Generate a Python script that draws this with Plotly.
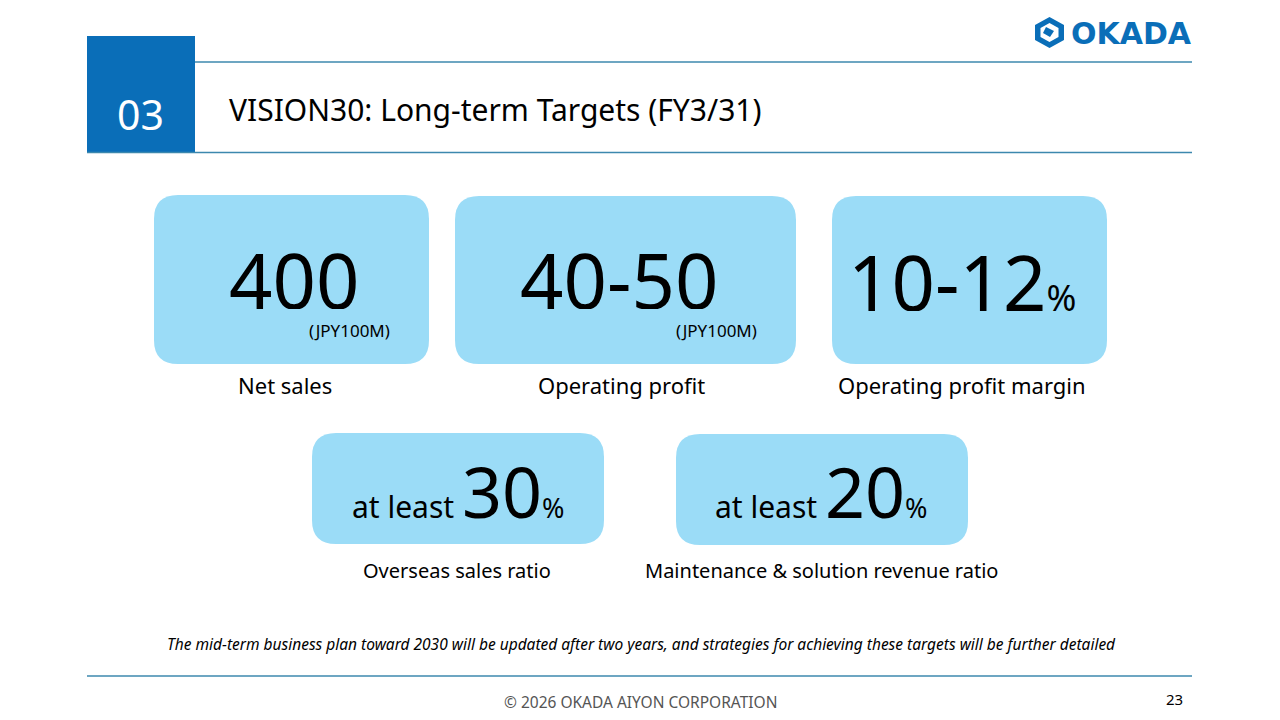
import plotly.graph_objects as go

# ---- data ----
section_no = "03"
title = "VISION30: Long-term Targets (FY3/31)"
values = ["400", "40-50", "10-12", "30", "20"]
prefixes = ["", "", "", "at least ", "at least "]
units = ["(JPY100M)", "(JPY100M)", "%", "%", "%"]
labels = ["Net sales", "Operating profit", "Operating profit margin",
          "Overseas sales ratio", "Maintenance & solution revenue ratio"]
footnote = ("The mid-term business plan toward 2030 will be updated after two years, "
            "and strategies for achieving these targets will be further detailed")
copyright_txt = "© 2026 OKADA AIYON CORPORATION"
page_no = "23"
brand = "OKADA"

# ---- layout / style ----
FONT = "Noto Sans"
BLUE = "#0A6EB8"
LINE = "#3C88AE"
CARD = "#9BDCF7"
boxes = [(154, 429, 195, 364), (455, 796, 196, 364), (832, 1107, 196, 364),
         (312, 604, 433, 544), (676, 968, 434, 545)]
value_x = [294, 619, 962, 458, 821]
label_x = [285, 621, 962, 457, 821]
label_size = [22, 22, 22, 20, 20]

def rrect(x0, x1, y0, y1, r):
    return (f"M{x0+r},{y0} L{x1-r},{y0} Q{x1},{y0} {x1},{y0+r} L{x1},{y1-r} "
            f"Q{x1},{y1} {x1-r},{y1} L{x0+r},{y1} Q{x0},{y1} {x0},{y1-r} "
            f"L{x0},{y0+r} Q{x0},{y0} {x0+r},{y0} Z")

fig = go.Figure()
fig.add_trace(go.Scatter(x=[0, 1280], y=[0, 720], mode="markers",
                         marker=dict(opacity=0), hoverinfo="skip", showlegend=False))

shapes = []
ann = []

# header
shapes.append(dict(type="rect", x0=87, x1=195, y0=36, y1=153, fillcolor=BLUE, line_width=0, layer="below"))
shapes.append(dict(type="line", x0=195, x1=1192, y0=62, y1=62, line=dict(color=LINE, width=1.5)))
shapes.append(dict(type="line", x0=87, x1=1192, y0=152.5, y1=152.5, line=dict(color=LINE, width=1.5)))
shapes.append(dict(type="line", x0=87, x1=1192, y0=676, y1=676, line=dict(color=LINE, width=1.5)))
ann.append(dict(x=140, y=114, text=section_no, font=dict(family=FONT, size=41, color="white")))
ann.append(dict(x=227, y=109, text=title, xanchor="left", font=dict(family=FONT, size=30, color="black")))

# logo
hexpath = "M1049.5,17 L1064,25 L1064,40 L1049.5,48 L1035,40 L1035,25 Z"
shapes.append(dict(type="path", path=hexpath, fillcolor=BLUE, line_width=0))
inner = "M1049.5,23 L1058.5,28 L1058.5,37 L1049.5,42 L1040.5,37 L1040.5,28 Z"
shapes.append(dict(type="path", path=inner, fillcolor="white", line_width=0))
shapes.append(dict(type="path", path="M1046,27 L1054,31 L1050,37 L1043,33 Z", fillcolor=BLUE, line_width=0))
ann.append(dict(x=1069, y=33, text=f"<b>{brand}</b>", xanchor="left",
                font=dict(family="DejaVu Sans", size=30, color=BLUE)))

# cards
for i, (x0, x1, y0, y1) in enumerate(boxes):
    shapes.append(dict(type="path", path=rrect(x0, x1, y0, y1, 24), fillcolor=CARD, line_width=0, layer="below"))
    cx = value_x[i]
    if i < 2:
        ann.append(dict(x=cx, y=279, text=values[i], height=60, valign="middle",
                        font=dict(family=FONT, size=76, color="black")))
        ann.append(dict(x=x1 - 37, y=330, text=units[i], xanchor="right",
                        font=dict(family=FONT, size=17, color="black")))
    elif i == 2:
        ann.append(dict(x=cx, y=281, height=60, valign="middle",
                        text=f"{values[i]}<span style='font-size:36px'>{units[i]}</span>",
                        font=dict(family=FONT, size=76, color="black")))
    else:
        ann.append(dict(x=cx, y=491,
                        text=(f"{prefixes[i]}<span style='font-size:70px'>{values[i]}</span>"
                              f"<span style='font-size:27px'>{units[i]}</span>"),
                        font=dict(family=FONT, size=30, color="black")))
    ly = 385 if i < 3 else 570
    ann.append(dict(x=label_x[i], y=ly, text=labels[i],
                    font=dict(family=FONT, size=label_size[i], color="black")))

# footer
ann.append(dict(x=641, y=644, text=f"<i>{footnote}</i>", font=dict(family=FONT, size=15.5, color="black")))
ann.append(dict(x=640, y=702, text=copyright_txt, font=dict(family=FONT, size=15.5, color="#555555")))
ann.append(dict(x=1174, y=699, text=page_no, font=dict(family=FONT, size=15, color="black")))

for a in ann:
    a.setdefault("showarrow", False)
    a.setdefault("xref", "x")
    a.setdefault("yref", "y")
    a.setdefault("yanchor", "middle")
for s in shapes:
    s.setdefault("xref", "x")
    s.setdefault("yref", "y")

fig.update_layout(
    width=1280, height=720, margin=dict(l=0, r=0, t=0, b=0),
    paper_bgcolor="white", plot_bgcolor="white",
    xaxis=dict(range=[0, 1280], visible=False, fixedrange=True),
    yaxis=dict(range=[720, 0], visible=False, fixedrange=True),
    shapes=shapes, annotations=ann, showlegend=False,
)
fig.write_html("out.html", config={"displayModeBar": False},
               post_script="document.body.style.margin='0';document.body.style.overflow='hidden';")
